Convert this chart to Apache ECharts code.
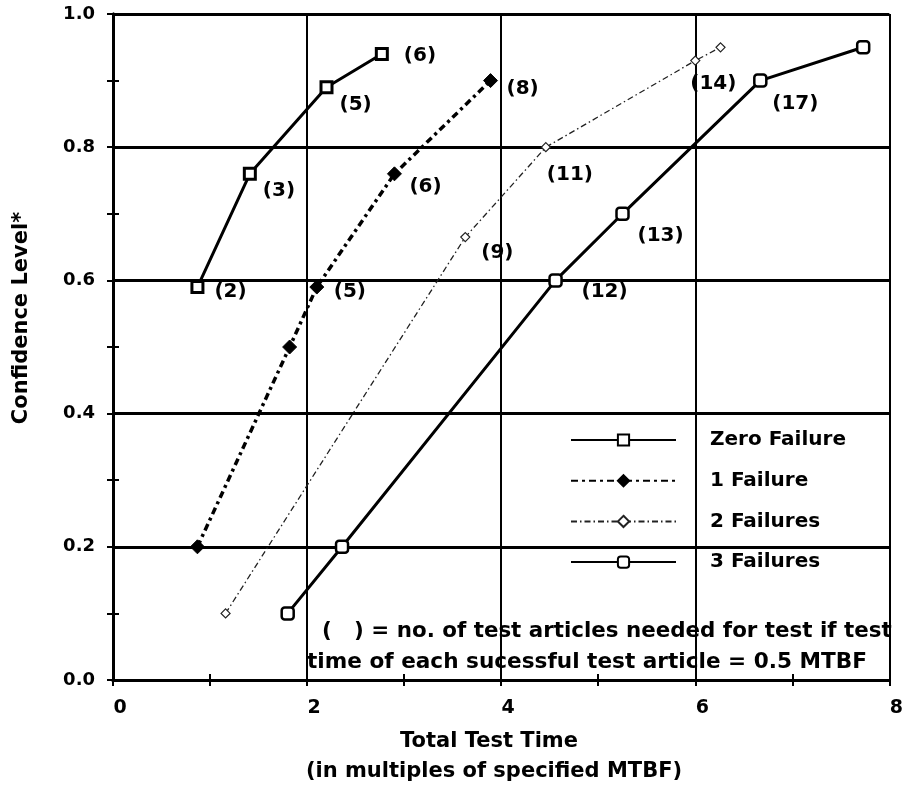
<!DOCTYPE html>
<html>
<head>
<meta charset="utf-8">
<script src="https://cdn.jsdelivr.net/npm/echarts@6/dist/echarts.min.js"></script>
<style>html,body{margin:0;padding:0;background:#fff;}#c{width:906px;height:788px;}</style>
</head>
<body>
<div id="c"></div>
<script>
// ---- data ----
const seriesNames = ['Zero Failure', '1 Failure', '2 Failures', '3 Failures'];
const zeroX = [0.87, 1.41, 2.20, 2.77];
const zeroY = [0.59, 0.76, 0.89, 0.94];
const zeroLabels = ['(2)', '(3)', '(5)', '(6)'];
const oneX = [0.87, 1.82, 2.10, 2.90, 3.89];
const oneY = [0.20, 0.50, 0.59, 0.76, 0.90];
const oneLabels = ['', '', '(5)', '(6)', '(8)'];
const twoX = [1.16, 3.63, 4.46, 6.00, 6.26];
const twoY = [0.10, 0.665, 0.80, 0.93, 0.95];
const twoLabels = ['', '(9)', '(11)', '(14)', ''];
const threeX = [1.80, 2.36, 4.56, 5.25, 6.67, 7.73];
const threeY = [0.10, 0.20, 0.60, 0.70, 0.90, 0.95];
const threeLabels = ['', '', '(12)', '(13)', '(17)', ''];
const xTicks = [0, 2, 4, 6, 8];
const yTicks = [0.0, 0.2, 0.4, 0.6, 0.8, 1.0];
const noteLines = ['(   ) = no. of test articles needed for test if test', 'time of each sucessful test article = 0.5 MTBF'];

// ---- styling (label offsets from the point) ----
const zeroOff = [[17, 5], [13, 17], [13, 18], [22, 2]];
const oneOff = [[0, 0], [0, 0], [17, 5], [15, 13], [16, 8]];
const twoOff = [[0, 0], [16, 16], [1, 28], [-5, 23]];
const threeOff = [[0, 0], [0, 0], [26, 11], [15, 22], [12, 23], [0, 0]];

const FONT = 'DejaVu Sans';
function build(xs, ys, labels, offs) {
  return xs.map((x, i) => ({
    value: [x, ys[i]],
    label: {
      show: !!labels[i],
      formatter: labels[i] || '',
      position: 'inside',
      align: 'left',
      verticalAlign: 'middle',
      offset: offs[i] || [0, 0],
      color: '#000',
      fontSize: 20,
      fontWeight: 'bold',
      fontFamily: FONT
    }
  }));
}

const chart = echarts.init(document.getElementById('c'), null, {renderer: 'canvas'});
const axisCommon = {
  type: 'value',
  axisLine: {show: true, lineStyle: {color: '#000', width: 3}},
  axisTick: {show: true, inside: true, length: 6, lineStyle: {color: '#000', width: 2}},
  minorTick: {show: true, splitNumber: 2, length: 6, lineStyle: {color: '#000', width: 2}},
  minorSplitLine: {show: false}
};
const txt = (extra) => Object.assign({fontFamily: FONT, fontWeight: 'bold', fill: '#000'}, extra);
chart.setOption({
  animation: false,
  backgroundColor: '#fff',
  grid: {left: 113, right: 14, top: 14, bottom: 108, containLabel: false},
  xAxis: [
    Object.assign({}, axisCommon, {
      min: 0, max: 8, interval: 2, position: 'bottom',
      axisLabel: {
        margin: 19, color: '#000', fontSize: 19, fontWeight: 'bold', fontFamily: FONT, padding: [0, 0, 0, 14],
        formatter: v => xTicks.includes(v) ? String(v) : ''
      },
      splitLine: {show: true, lineStyle: {color: '#000', width: 2}}
    }),
    Object.assign({}, axisCommon, {
      min: 0, max: 8, interval: 2, position: 'top',
      axisLabel: {show: false}, splitLine: {show: false}
    })
  ],
  yAxis: [
    Object.assign({}, axisCommon, {
      min: 0, max: 1, interval: 0.2, position: 'left',
      axisLabel: {
        margin: 18, color: '#000', fontSize: 18, fontWeight: 'bold', fontFamily: FONT,
        formatter: v => yTicks.find(t => Math.abs(t - v) < 1e-6) !== undefined ? v.toFixed(1) : ''
      },
      splitLine: {show: true, lineStyle: {color: '#000', width: 3}}
    }),
    Object.assign({}, axisCommon, {
      min: 0, max: 1, interval: 0.2, position: 'right',
      axisLabel: {show: false}, splitLine: {show: false}
    })
  ],
  legend: {
    orient: 'vertical', left: 565, top: 425,
    itemWidth: 105, itemHeight: 14, itemGap: 20.7,
    textStyle: {fontSize: 20, fontWeight: 'bold', fontFamily: FONT, color: '#000', padding: [0, 0, 0, 29], lineHeight: 18},
    data: seriesNames
  },
  series: [
    {
      name: seriesNames[0], type: 'line', data: build(zeroX, zeroY, zeroLabels, zeroOff),
      symbol: 'rect', symbolSize: 11,
      lineStyle: {color: '#000', width: 3},
      itemStyle: {color: '#fff', borderColor: '#000', borderWidth: 3},
      z: 5
    },
    {
      name: seriesNames[1], type: 'line', data: build(oneX, oneY, oneLabels, oneOff),
      symbol: 'diamond', symbolSize: 14,
      lineStyle: {color: '#000', width: 3.5, type: [7, 4, 3, 4]},
      itemStyle: {color: '#000', borderColor: '#000', borderWidth: 1},
      z: 5
    },
    {
      name: seriesNames[2], type: 'line', data: build(twoX, twoY, twoLabels, twoOff),
      symbol: 'diamond', symbolSize: 9,
      lineStyle: {color: '#222', width: 1.3, type: [6, 3, 1.5, 3]},
      itemStyle: {color: '#fff', borderColor: '#222', borderWidth: 1.2},
      z: 5
    },
    {
      name: seriesNames[3], type: 'line', data: build(threeX, threeY, threeLabels, threeOff),
      symbol: 'roundRect', symbolSize: 12,
      lineStyle: {color: '#000', width: 3},
      itemStyle: {color: '#fff', borderColor: '#000', borderWidth: 2.5},
      z: 5
    }
  ],
  graphic: [
    {type: 'text', left: 322, top: 621, z: 10, style: txt({text: noteLines[0], fontSize: 21.4})},
    {type: 'text', left: 307, top: 651, z: 10, style: txt({text: noteLines[1], fontSize: 21.6})},
    {type: 'text', x: 489, y: 742, z: 10, style: txt({text: 'Total Test Time', fontSize: 21, align: 'center', verticalAlign: 'middle'})},
    {type: 'text', x: 494, y: 772, z: 10, style: txt({text: '(in multiples of specified MTBF)', fontSize: 21, align: 'center', verticalAlign: 'middle'})},
    {type: 'text', x: 22, y: 318, rotation: Math.PI / 2, z: 10, style: txt({text: 'Confidence Level*', fontSize: 21, align: 'center', verticalAlign: 'middle'})}
  ]
});
</script>
</body>
</html>
